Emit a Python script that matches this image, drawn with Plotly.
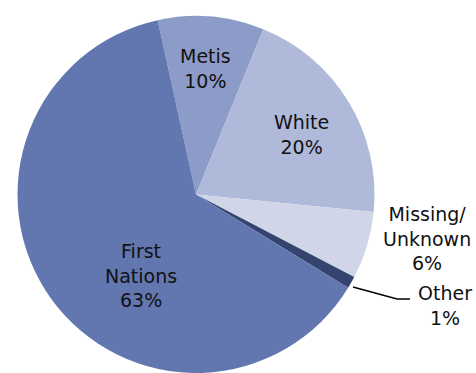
import plotly.graph_objects as go

# Data
labels = ["Metis", "White", "Missing/<br>Unknown", "Other", "First<br>Nations"]
values = [9.6, 20.4, 6.1, 1.1, 62.8]
colors = ["#8D9BC8", "#AFB9DA", "#D0D5E8", "#34446F", "#6277AF"]

W, H = 476, 373

fig = go.Figure(go.Pie(
    labels=labels,
    values=values,
    sort=False,
    direction="clockwise",
    rotation=-12.4,
    marker=dict(colors=colors, line=dict(width=0)),
    textinfo="none",
    hoverinfo="label+percent",
    showlegend=False,
    domain=dict(x=[16 / W, 376 / W], y=[0, (H - 16) / H]),
))

# label anchor positions in pixels (center x, center y)
label_pos = [(205, 68), (301, 134), (427, 238), (445, 305), (141, 275)]
total = sum(values)
for lab, v, (px, py) in zip(labels, values, label_pos):
    fig.add_annotation(
        x=px / W, y=1 - py / H, xref="paper", yref="paper",
        text=f"{lab}<br>{round(v / total * 100)}%",
        showarrow=False, xanchor="center", yanchor="middle",
        font=dict(family="DejaVu Sans", size=19, color="#111111"),
    )

# leader line for "Other"
pts = [(353, 287), (397, 299), (410, 299)]
path = "M " + " L ".join(f"{x / W} {1 - y / H}" for x, y in pts)
fig.add_shape(type="path", path=path, xref="paper", yref="paper",
              line=dict(color="black", width=1.5))

fig.update_layout(
    width=W, height=H,
    margin=dict(l=0, r=0, t=0, b=0),
    paper_bgcolor="white",
    plot_bgcolor="white",
)

fig.write_html(
    "out.html",
    config={"displayModeBar": False},
    post_script="document.body.style.margin='0';document.body.style.overflow='hidden';",
)
